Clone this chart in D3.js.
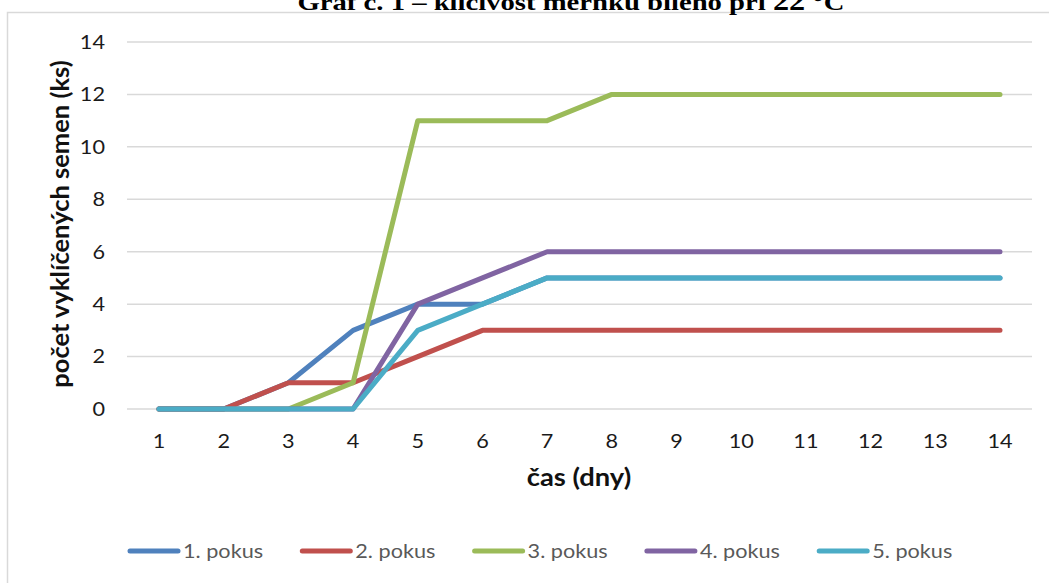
<!DOCTYPE html>
<html>
<head>
<meta charset="utf-8">
<script src="https://cdn.jsdelivr.net/npm/d3@7"></script>
<style>
  body { margin: 0; background: #fff; }
  svg text { font-family: Lato, "Open Sans", sans-serif; }
</style>
</head>
<body>
<div id="chart"></div>
<script>
// dny
var days = [1, 2, 3, 4, 5, 6, 7, 8, 9, 10, 11, 12, 13, 14];
var yTicks = [0, 2, 4, 6, 8, 10, 12, 14];

var pokus1 = [0, 0, 1, 3, 4, 4, 5, 5, 5, 5, 5, 5, 5, 5];
var pokus2 = [0, 0, 1, 1, 2, 3, 3, 3, 3, 3, 3, 3, 3, 3];
var pokus3 = [0, 0, 0, 1, 11, 11, 11, 12, 12, 12, 12, 12, 12, 12];
var pokus4 = [0, 0, 0, 0, 4, 5, 6, 6, 6, 6, 6, 6, 6, 6];
var pokus5 = [0, 0, 0, 0, 3, 4, 5, 5, 5, 5, 5, 5, 5, 5];

var seriesNames = ['1. pokus', '2. pokus', '3. pokus', '4. pokus', '5. pokus'];
var seriesColors = ['#4F81BD', '#C0504D', '#9BBB59', '#8064A2', '#4BACC6'];
var seriesData = [pokus1, pokus2, pokus3, pokus4, pokus5];

var W = 1049, H = 583;
var stretch = 1.14; // puvodni obrazek je vodorovne roztazeny

var svg = d3.select('#chart').append('svg')
    .attr('width', W)
    .attr('height', H);

// roztahne vodorovny text
function widen(sel, k) {
    sel.each(function() {
        var len = this.getComputedTextLength();
        d3.select(this)
            .attr('textLength', len * (k || stretch))
            .attr('lengthAdjust', 'spacingAndGlyphs');
    });
}

// ramecek grafu (presahuje vpravo a dole)
svg.append('rect')
    .attr('x', 7.5).attr('y', 12.5)
    .attr('width', 1100).attr('height', 700)
    .attr('fill', 'none')
    .attr('stroke', '#D9D9D9')
    .attr('stroke-width', 1.5);

// nadpis - horni cast je oriznuta
var title = svg.append('text')
    .attr('x', 571).attr('y', 9.5)
    .attr('text-anchor', 'middle')
    .style('font-family', '"Liberation Serif", "Times New Roman", serif')
    .style('font-weight', 'bold')
    .style('font-size', '24px')
    .style('fill', '#000');
title.append('tspan').text('Graf č. 1 – klíčivost měrnku bílého při ');
title.append('tspan').style('font-size', '27px').text('22');
title.append('tspan').text(' °C');
title.attr('textLength', 547).attr('lengthAdjust', 'spacingAndGlyphs');

var x = d3.scalePoint()
    .domain(days)
    .range([159, 1000]);

var y = d3.scaleLinear()
    .domain([0, 14])
    .range([409, 42]);

var gridLeft = 127, gridRight = 1032;

svg.append('g').selectAll('line')
    .data(yTicks)
    .enter().append('line')
    .attr('x1', gridLeft).attr('x2', gridRight)
    .attr('y1', function(d) { return y(d); })
    .attr('y2', function(d) { return y(d); })
    .attr('stroke', '#D9D9D9')
    .attr('stroke-width', 1.5);

svg.append('g').selectAll('text')
    .data(yTicks)
    .enter().append('text')
    .attr('x', 105)
    .attr('y', function(d) { return y(d); })
    .attr('dy', '0.36em')
    .attr('text-anchor', 'end')
    .style('font-size', '19px')
    .style('fill', '#1a1a1a')
    .text(function(d) { return d; })
    .call(widen);

svg.append('g').selectAll('text')
    .data(days)
    .enter().append('text')
    .attr('x', function(d) { return x(d); })
    .attr('y', 448)
    .attr('text-anchor', 'middle')
    .style('font-size', '19px')
    .style('fill', '#1a1a1a')
    .text(function(d) { return d; })
    .call(widen);

svg.append('text')
    .attr('x', 579).attr('y', 486)
    .attr('text-anchor', 'middle')
    .style('font-size', '24px')
    .style('font-weight', 'bold')
    .style('fill', '#111')
    .text('čas (dny)')
    .call(widen);

svg.append('text')
    .attr('transform', 'translate(69,224) rotate(-90)')
    .attr('text-anchor', 'middle')
    .style('font-size', '25.5px')
    .style('font-weight', 'bold')
    .style('fill', '#111')
    .text('počet vyklíčených semen (ks)');

var line = d3.line()
    .x(function(d, i) { return x(days[i]); })
    .y(function(d) { return y(d); });

svg.append('g').selectAll('path')
    .data(seriesData)
    .enter().append('path')
    .attr('d', line)
    .attr('fill', 'none')
    .attr('stroke', function(d, i) { return seriesColors[i]; })
    .attr('stroke-width', 5)
    .attr('stroke-linejoin', 'round')
    .attr('stroke-linecap', 'round');

// legenda
var legend = svg.append('g').selectAll('g')
    .data(seriesNames)
    .enter().append('g')
    .attr('transform', function(d, i) { return 'translate(' + (130 + i * 172.3) + ',551)'; });

legend.append('line')
    .attr('x1', 0).attr('x2', 48)
    .attr('stroke', function(d, i) { return seriesColors[i]; })
    .attr('stroke-width', 5)
    .attr('stroke-linecap', 'round');

legend.append('text')
    .attr('x', 53)
    .attr('dy', '0.36em')
    .style('font-size', '19px')
    .style('fill', '#595959')
    .text(function(d) { return d; })
    .call(widen);
</script>
</body>
</html>
